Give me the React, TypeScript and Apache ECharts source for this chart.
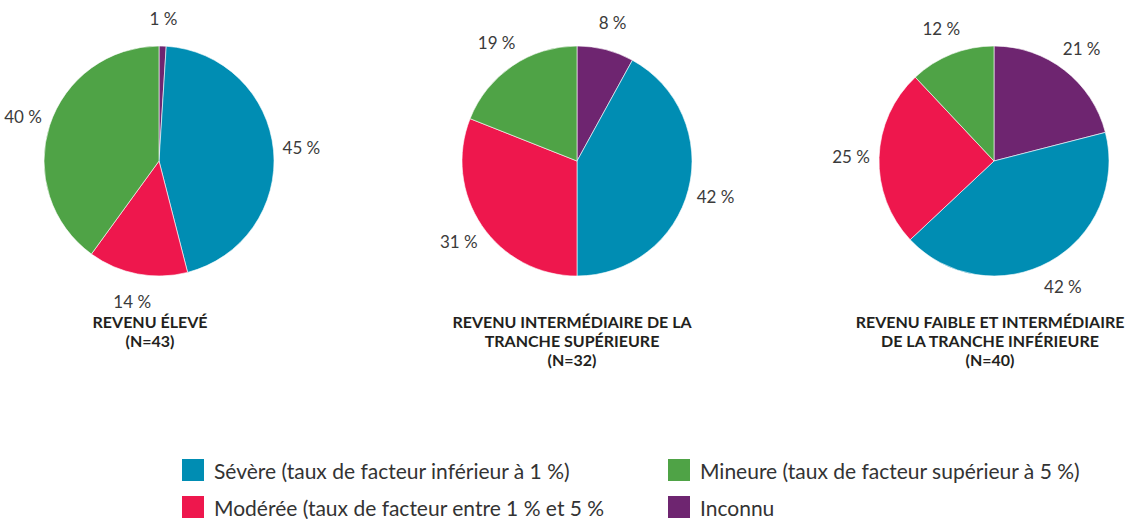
import React, { useEffect, useRef } from "react";
import * as echarts from "echarts";

const categories = [
  "Inconnu",
  "Sévère (taux de facteur inférieur à 1 %)",
  "Modérée (taux de facteur entre 1 % et 5 %",
  "Mineure (taux de facteur supérieur à 5 %)",
];
const colors = ["#6E2570", "#008DB3", "#EE174D", "#4FA346"];

const highIncome = [1, 45, 14, 40];
const upperMiddle = [8, 42, 31, 19];
const lowerIncome = [21, 42, 25, 12];

const titles = [
  "REVENU ÉLEVÉ\n(N=43)",
  "REVENU INTERMÉDIAIRE DE LA\nTRANCHE SUPÉRIEURE\n(N=32)",
  "REVENU FAIBLE ET INTERMÉDIAIRE\nDE LA TRANCHE INFÉRIEURE\n(N=40)",
];

const FONT = "Lato, 'Noto Sans', sans-serif";

export default function App() {
  const ref = useRef<HTMLDivElement>(null);
  useEffect(() => {
    document.body.style.margin = "0";
    const chart = echarts.init(ref.current!, null, { renderer: "svg" });
    const groups = [highIncome, upperMiddle, lowerIncome];
    const centers = [
      [159, 161],
      [577, 161],
      [994, 161],
    ];
    const titleX = [150, 572, 990];
    const mk = (vals: number[]) =>
      vals.map((v, i) => ({ name: categories[i], value: v, itemStyle: { color: colors[i] } }));

    const pies: any[] = groups.map((vals, k) => ({
      type: "pie",
      center: centers[k],
      radius: [0, 115],
      startAngle: 90,
      clockwise: true,
      silent: true,
      label: { show: false },
      labelLine: { show: false },
      itemStyle: { borderColor: "#ffffff", borderWidth: 0.6 },
      emphasis: { disabled: true },
      data: mk(vals),
    }));
    const ghosts: any[] = groups.map((vals, k) => ({
      type: "pie",
      center: centers[k],
      radius: [130, 150],
      startAngle: 90,
      clockwise: true,
      silent: true,
      legendHoverLink: false,
      itemStyle: { color: "rgba(0,0,0,0)", borderWidth: 0 },
      emphasis: { disabled: true },
      label: {
        show: true,
        position: "inside",
        formatter: "{c} %",
        color: "#3b3b3b",
        fontSize: 17,
        fontFamily: FONT,
      },
      labelLine: { show: false },
      data: vals.map((v, i) => ({ name: categories[i], value: v })),
    }));

    const legendBase = {
      orient: "horizontal",
      itemWidth: 24,
      itemHeight: 24,
      padding: 0,
      icon: "rect",
      selectedMode: false,
      textStyle: {
        fontSize: 21,
        lineHeight: 24,
        color: "#333333",
        fontFamily: FONT,
        padding: [0, 0, 0, 4],
      },
    };
    const legendSlots = [
      { name: categories[1], left: 180, top: 457 },
      { name: categories[2], left: 180, top: 494 },
      { name: categories[3], left: 666, top: 457 },
      { name: categories[0], left: 666, top: 494 },
    ];

    chart.setOption({
      animation: false,
      backgroundColor: "#ffffff",
      legend: legendSlots.map((s) => ({
        ...legendBase,
        left: s.left,
        top: s.top,
        data: [s.name],
      })),
      graphic: titles.map((t, k) => ({
        type: "text",
        x: titleX[k],
        y: 311.5,
        silent: true,
        style: {
          text: t,
          textAlign: "center",
          textVerticalAlign: "top",
          fill: "#231f20",
          font: `bold 16px ${FONT}`,
          lineHeight: 19,
        },
      })),
      series: [...pies, ...ghosts],
    });
    return () => chart.dispose();
  }, []);
  return (
    <div
      ref={ref}
      style={{ position: "absolute", left: 0, top: 0, width: 1138, height: 519 }}
    />
  );
}
